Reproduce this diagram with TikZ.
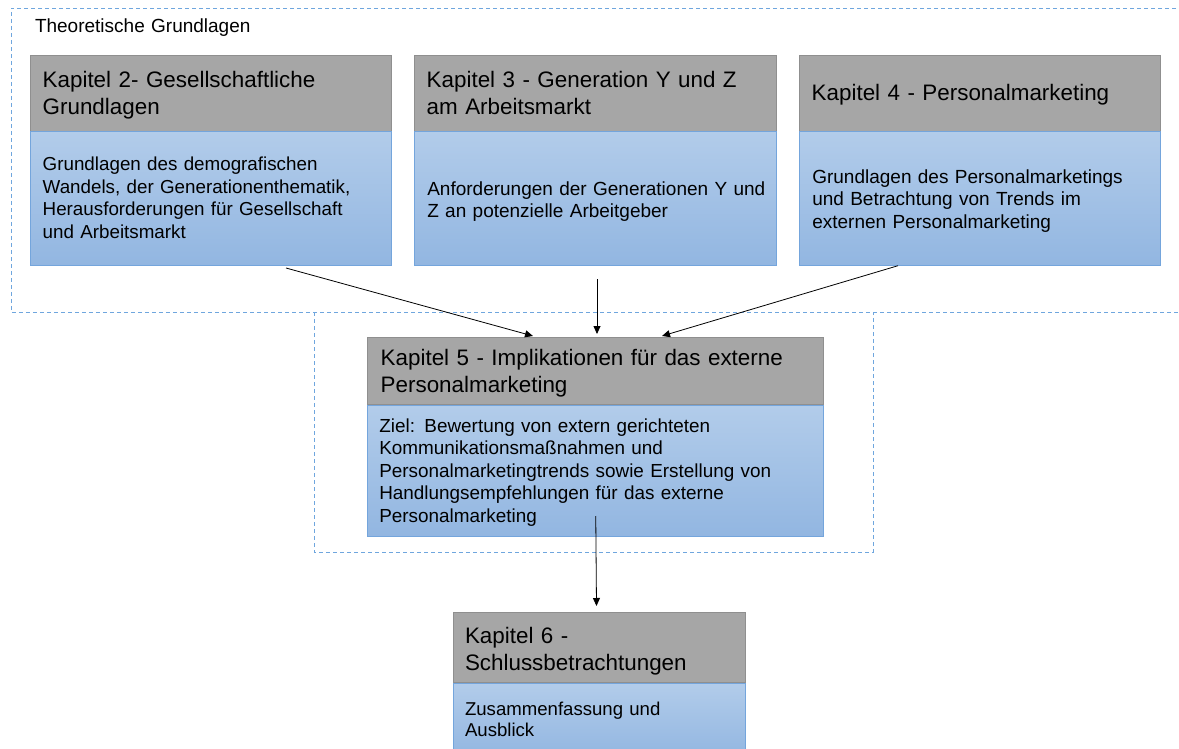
\documentclass[tikz,border=0pt]{standalone}
\usepackage{fontspec}
\setmainfont{Liberation Sans}
\usetikzlibrary{arrows.meta}
\definecolor{hdrfill}{HTML}{A6A6A6}
\definecolor{hdrline}{HTML}{8F8F8F}
\definecolor{bodytop}{HTML}{B2CCEA}
\definecolor{bodybot}{HTML}{92B6E1}
\definecolor{bodyline}{HTML}{74A5DC}
\definecolor{frameline}{HTML}{6FA6DE}
\tikzset{
  hdrbox/.style={rectangle, draw=hdrline, fill=hdrfill, line width=0.9pt,
    anchor=north west, inner sep=0pt, outer sep=0pt},
  bodybox/.style={rectangle, draw=bodyline, top color=bodytop, bottom color=bodybot,
    line width=0.9pt, anchor=north west, inner sep=0pt, outer sep=0pt},
  txt/.style={anchor=base west, inner sep=0pt, outer sep=0pt, text width=440pt, align=left},
  hdrtxt/.style={txt, font={\fontsize{22.4}{27}\selectfont}},
  frame/.style={draw=frameline, line width=0.9pt, dash pattern=on 4pt off 3pt},
  conn/.style={draw=black, line width=0.8pt, -{Triangle[length=8pt,width=7pt]}},
}
\begin{document}
\begin{tikzpicture}[x=1pt,y=-1pt]
\useasboundingbox (0,0) rectangle (1179,749);
\clip (0,0) rectangle (1179,749);

% dashed groupings
\draw[frame] (1190,8) -- (11,8) -- (11,312) -- (1190,312);
\draw[frame] (314,312) -- (314,552) -- (873,552) -- (873,312);
\node[txt, font={\fontsize{19}{22}\selectfont}] (ttl) at (35,32.7) {Theoretische Grundlagen};

% chapter 2
\node[hdrbox, minimum width=361pt, minimum height=75.3pt] (k2h) at (30,55.7) {};
\node[bodybox, minimum width=361pt, minimum height=134.2pt] (k2b) at (30,131.5) {};
% chapter 3
\node[hdrbox, minimum width=361.7pt, minimum height=75.3pt] (k3h) at (414.3,55.7) {};
\node[bodybox, minimum width=361.7pt, minimum height=134.2pt] (k3b) at (414.3,131.5) {};
% chapter 4
\node[hdrbox, minimum width=361.7pt, minimum height=75.3pt] (k4h) at (799,55.7) {};
\node[bodybox, minimum width=361.7pt, minimum height=134.2pt] (k4b) at (799,131.5) {};
% chapter 5
\node[hdrbox, minimum width=456.5pt, minimum height=66.5pt] (k5h) at (367,337.5) {};
\node[bodybox, minimum width=456.5pt, minimum height=131.2pt] (k5b) at (367,405.5) {};
% chapter 6
\node[hdrbox, minimum width=292.4pt, minimum height=70pt] (k6h) at (453.3,612.3) {};
\node[bodybox, minimum width=292.4pt, minimum height=75pt] (k6b) at (453.3,683) {};

% headings
\node[hdrtxt] (k2ht) at (42.7,87.5) {Kapitel 2- Gesellschaftliche\\Grundlagen};
\node[hdrtxt] (k3ht) at (426.7,87.5) {Kapitel 3 - Generation Y und Z\\am Arbeitsmarkt};
\node[hdrtxt] (k4ht) at (811.7,101) {Kapitel 4 - Personalmarketing};
\node[hdrtxt] (k5ht) at (380.7,365.7) {Kapitel 5 - Implikationen für das externe\\Personalmarketing};
\node[hdrtxt] (k6ht) at (465,643.3) {Kapitel 6 -\\Schlussbetrachtungen};

% descriptions
\node[txt, font={\fontsize{18.8}{22.5}\selectfont}] (k2bt) at (42.7,170.7)
  {Grundlagen des demografischen\\Wandels, der Generationenthematik,\\Herausforderungen für Gesellschaft\\und Arbeitsmarkt};
\node[txt, font={\fontsize{19}{22}\selectfont}] (k3bt) at (427.3,195.7)
  {Anforderungen der Generationen Y und\\Z an potenzielle Arbeitgeber};
\node[txt, font={\fontsize{19}{22.5}\selectfont}] (k4bt) at (812.3,183.3)
  {Grundlagen des Personalmarketings\\und Betrachtung von Trends im\\externen Personalmarketing};
\node[txt, font={\fontsize{18.9}{22.5}\selectfont}] (k5bt) at (379.3,432.3)
  {Ziel: Bewertung von extern gerichteten\\Kommunikationsmaßnahmen und\\Personalmarketingtrends sowie Erstellung von\\Handlungsempfehlungen für das externe\\Personalmarketing};
\node[txt, font={\fontsize{18.6}{21.7}\selectfont}] (k6bt) at (465,715)
  {Zusammenfassung und\\Ausblick};

% connectors
\draw[conn] ([xshift=75.5pt,yshift=-2.3pt]k2b.south) -- ([xshift=-62.25pt,yshift=1.5pt]k5h.north);
\draw[conn] ([xshift=1.85pt,yshift=-13.3pt]k3b.south) -- ([xshift=1.75pt,yshift=3.5pt]k5h.north);
\draw[conn] ([xshift=-81.85pt]k4b.south) -- ([xshift=66.75pt,yshift=1.5pt]k5h.north);
\draw[conn] ([xshift=0.5pt,yshift=20.7pt]k5b.south) -- ([xshift=-3pt,yshift=6.3pt]k6h.north);
\end{tikzpicture}
\end{document}
